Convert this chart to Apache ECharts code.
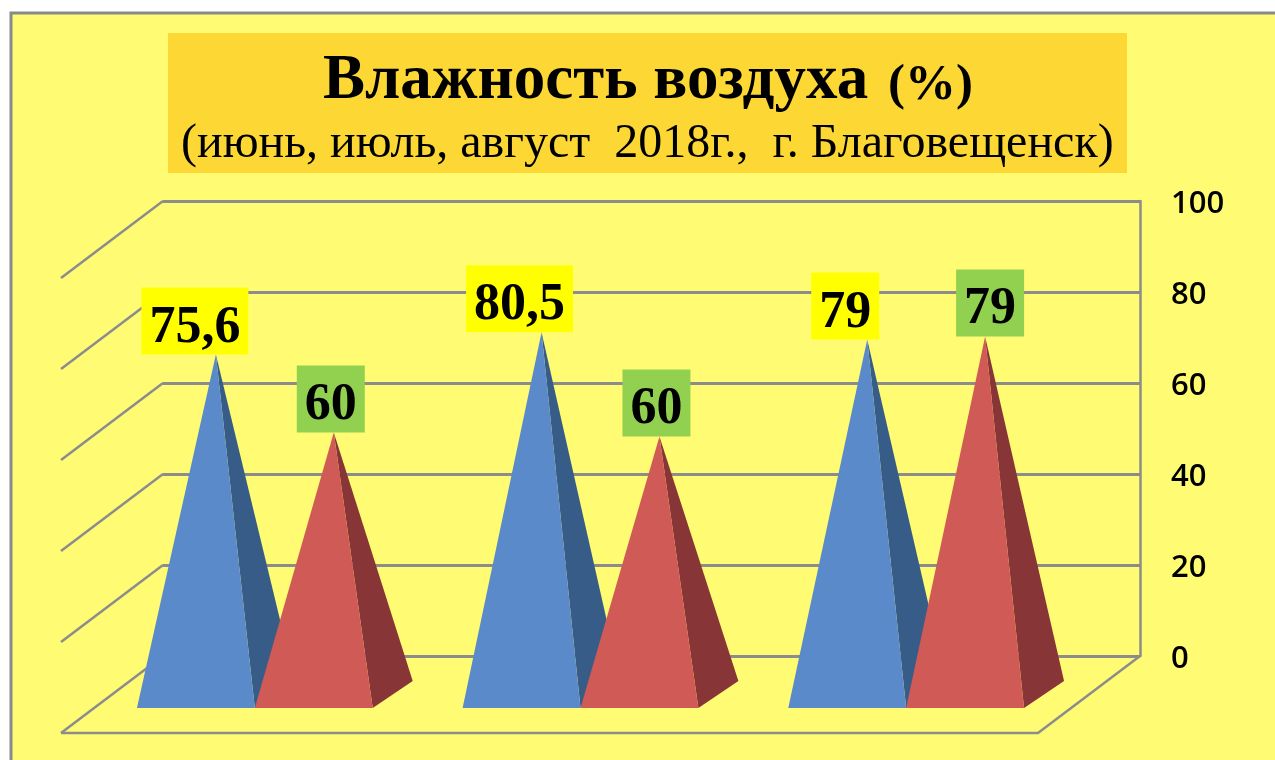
<!DOCTYPE html>
<html>
<head>
<meta charset="utf-8">
<title>Влажность воздуха</title>
<script src="https://cdn.jsdelivr.net/npm/echarts@6/dist/echarts.min.js"></script>
<style>
  html, body { margin: 0; padding: 0; background: #fff; }
  #chart { width: 1275px; height: 760px; }
</style>
</head>
<body>
<div id="chart"></div>
<script>
const months = ['июнь', 'июль', 'август']
const yTicks = [0, 20, 40, 60, 80, 100]

// printed labels
const blueLabels = ['75,6', '80,5', '79']
const redLabels = ['60', '60', '79']
// heights as read against the axis, the pyramids do not quite follow their labels
const blueValues = [74.7, 79.6, 78]
const redValues = [57.6, 56.7, 78.7]

const lineColor = '#8c8c8c'
const wallDx = -102, wallDy = 77      // back wall to front edge of the floor
const midDx = -51, midDy = 38.5       // back wall to middle of the pyramids
const baseDx = 20, baseDy = 13.5      // half the pyramid depth
const halfBase = 0.181                // of a category width

const chart = echarts.init(document.getElementById('chart'))

// side wall lines and floor
const renderWall = (params, api) => {
  const p = api.coord([0, api.value(0)])
  const cat = api.size([1, 0])[0]
  const x0 = p[0] - cat / 2
  const children = [{
    type: 'line',
    shape: { x1: x0, y1: p[1], x2: x0 + wallDx, y2: p[1] + wallDy },
    style: { stroke: lineColor, lineWidth: 2.5 }
  }]
  if (api.value(0) === 0) {
    const x1 = x0 + cat * months.length
    children.push({
      type: 'polyline',
      shape: { points: [[x0 + wallDx, p[1] + wallDy], [x1 + wallDx, p[1] + wallDy], [x1, p[1]]] },
      style: { stroke: lineColor, lineWidth: 2.5, fill: null }
    })
  }
  return { type: 'group', children }
}

const makePyramid = (side, front, dark) => (params, api) => {
  const i = params.dataIndex
  const half = api.size([1, 0])[0] * halfBase
  const base = api.coord([i, 0])
  const top = api.coord([i, api.value(1)])
  const cx = base[0] + midDx + side * half
  const yFront = base[1] + midDy + baseDy
  const apex = [cx, top[1] + midDy]
  const leftFront = [cx - baseDx - half, yFront]
  const rightFront = [cx - baseDx + half, yFront]
  const rightBack = [cx + baseDx + half, yFront - 2 * baseDy]
  return {
    type: 'group',
    children: [
      { type: 'polygon', shape: { points: [apex, rightFront, rightBack] }, style: { fill: dark } },
      { type: 'polygon', shape: { points: [apex, leftFront, rightFront] }, style: { fill: front } }
    ]
  }
}

const makeLabel = (side, labels, bg, nudges) => (params, api) => {
  const i = params.dataIndex
  const half = api.size([1, 0])[0] * halfBase
  const base = api.coord([i, 0])
  const top = api.coord([i, api.value(1)])
  return {
    type: 'text',
    style: {
      text: labels[i],
      x: base[0] + midDx + side * half + nudges[i],
      y: top[1] + midDy - 67,
      align: 'center',
      verticalAlign: 'top',
      font: 'bold 52px "Liberation Serif"',
      fill: '#000',
      lineHeight: 53,
      backgroundColor: bg,
      padding: [14, 8, 0, 8]
    }
  }
}

const seriesData = vals => vals.map((v, i) => [i, v])

chart.setOption({
  animation: false,
  graphic: [
    { type: 'rect', z: -10, shape: { x: 11, y: 13, width: 1300, height: 800 }, style: { fill: '#fffc73', stroke: '#898989', lineWidth: 3 } },
    { type: 'rect', z: -9, shape: { x: 168, y: 33, width: 959, height: 140 }, style: { fill: '#fdd835' } },
    {
      type: 'text', z: 5, left: 323, top: 50,
      style: { text: 'Влажность воздуха', font: 'bold 63px "Liberation Serif"', fill: '#000' }
    },
    {
      type: 'text', z: 5, left: 888, top: 60,
      style: { text: '(%)', font: 'bold 51px "Liberation Serif"', fill: '#000' }
    },
    {
      type: 'text', z: 5, left: 181, top: 120,
      style: { text: '(июнь, июль, август  2018г.,  г. Благовещенск)', font: '48px "Liberation Serif"', fill: '#000' }
    }
  ],
  grid: { left: 163, right: 135, top: 201, bottom: 104 },
  xAxis: {
    type: 'category',
    data: months,
    axisLine: { show: false },
    axisTick: { show: false },
    axisLabel: { show: false }
  },
  yAxis: {
    type: 'value',
    position: 'right',
    min: 0,
    max: 100,
    interval: 20,
    axisLine: { show: true, lineStyle: { color: lineColor, width: 2.5 } },
    axisTick: { show: false },
    splitLine: { lineStyle: { color: lineColor, width: 3 } },
    axisLabel: {
      margin: 31,
      formatter: '{v|{value}}',
      rich: {
        v: {
          padding: [7, 0, 0, 0],
          color: '#000',
          fontFamily: 'Open Sans',
          fontWeight: 600,
          fontSize: 31
        }
      },
      verticalAlignMaxLabel: 'middle',
      verticalAlignMinLabel: 'middle'
    }
  },
  series: [
    { type: 'custom', name: 'Стены', z: 2, clip: false, silent: true, encode: { y: 0 }, data: yTicks.map(v => [v]), renderItem: renderWall },
    { type: 'custom', name: 'Ряд 1', z: 3, clip: false, encode: { x: 0, y: 1 }, data: seriesData(blueValues), renderItem: makePyramid(-1, '#5a8aca', '#375c88') },
    { type: 'custom', name: 'Ряд 2', z: 4, clip: false, encode: { x: 0, y: 1 }, data: seriesData(redValues), renderItem: makePyramid(1, '#cf5a56', '#883538') },
    { type: 'custom', name: 'Подписи 1', z: 6, clip: false, encode: { x: 0, y: 1 }, data: seriesData(blueValues), renderItem: makeLabel(-1, blueLabels, '#ffff00', [-21, -22, -22]) },
    { type: 'custom', name: 'Подписи 2', z: 6, clip: false, encode: { x: 0, y: 1 }, data: seriesData(redValues), renderItem: makeLabel(1, redLabels, '#92d050', [-3, -3, 5]) }
  ]
})

window.addEventListener('resize', () => chart.resize())
</script>
</body>
</html>
